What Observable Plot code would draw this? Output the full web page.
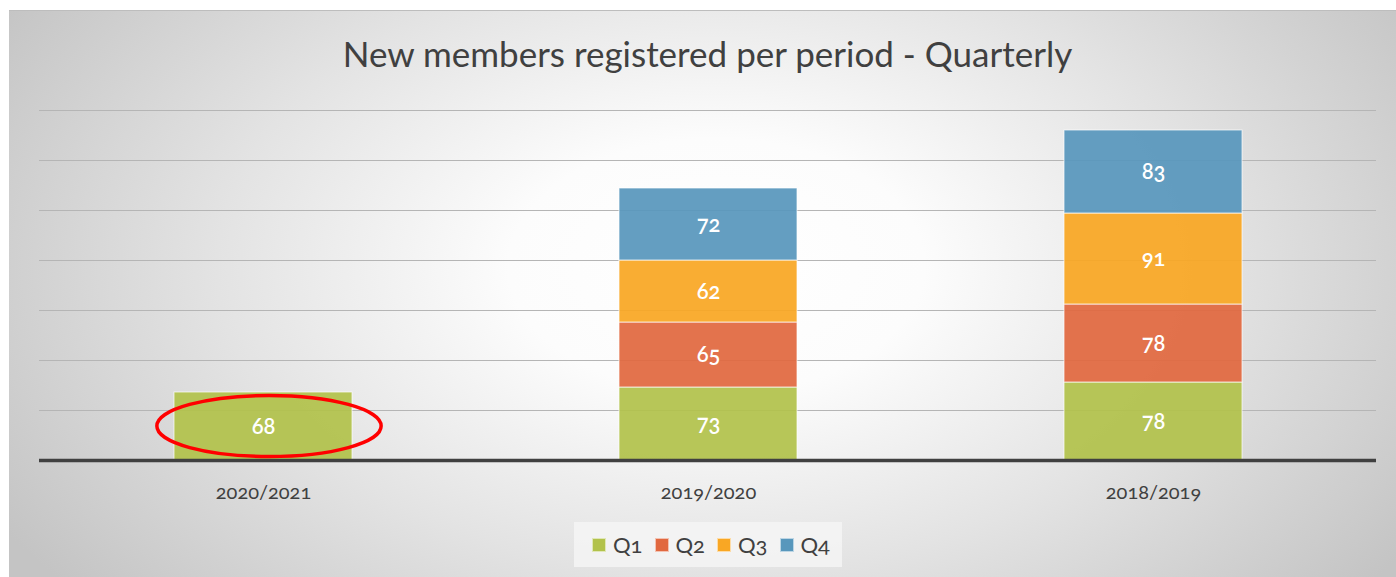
<!DOCTYPE html>
<html>
<head>
<meta charset="utf-8">
<script src="https://cdn.jsdelivr.net/npm/d3@7"></script>
<script src="https://cdn.jsdelivr.net/npm/@observablehq/plot@0.6"></script>
<style>
  html, body { margin: 0; padding: 0; background: #ffffff; }
  #wrap { position: relative; width: 1396px; height: 577px; overflow: hidden; font-family: Lato, "Open Sans", sans-serif; font-variant-numeric: oldstyle-nums; }
  #bg { position: absolute; left: 9px; top: 10px; width: 1387px; height: 567px;
        border-top: 1px solid #bdbdbd;
        background: radial-gradient(ellipse 60% 90% at 51% 45%, #ffffff 0%, #fcfcfc 25%, #e3e3e3 60%, #c4c4c4 100%); }
  #title { position: absolute; left: 39px; width: 1337px; top: 32px; text-align: center;
           font-size: 35px; color: #404040; font-weight: 400; letter-spacing: 0px; }
  #chart { position: absolute; left: 0; top: 0; }
  #legend { position: absolute; left: 574px; top: 522px; width: 268px; height: 45px; box-sizing: border-box;
            padding-left: 18px;
            background: rgba(245,245,245,0.85); display: flex; align-items: center; justify-content: flex-start; }
  .item { display: flex; align-items: center; width: 64.5px; font-size: 22px; color: #404040; }
  .sw { width: 12px; height: 12px; margin-right: 7px; border: 1px solid rgba(255,255,255,0.6); flex: none; }
</style>
</head>
<body>
<div id="wrap">
  <div id="bg"></div>
  <div id="title">New members registered per period - Quarterly</div>
  <div id="chart"></div>
  <div id="legend"></div>
</div>
<script>
const periods = ["2020/2021", "2019/2020", "2018/2019"];
const quarters = ["Q1", "Q2", "Q3", "Q4"];
const q1 = [68, 73, 78];
const q2 = [null, 65, 78];
const q3 = [null, 62, 91];
const q4 = [null, 72, 83];
const colors = ["#b2c24b", "#e1683f", "#f9a724", "#5897bc"];
const gridTicks = [0, 50, 100, 150, 200, 250, 300, 350];
const highlight = {period: "2020/2021", value: 68};

const series = [q1, q2, q3, q4];
const data = [];
quarters.forEach((q, qi) => {
  periods.forEach((p, pi) => {
    const v = series[qi][pi];
    if (v != null) data.push({period: p, quarter: q, value: v});
  });
});

const ellipseMark = (index, scales) => {
  const x = scales.x;
  const step = x(periods[1]) - x(periods[0]);
  const bw = (x.bandwidth && x.bandwidth > 0) ? x.bandwidth : step * 0.4;
  const cx = x(highlight.period) + bw / 2 + 6;
  const cy = scales.y(highlight.value / 2);
  return d3.create("svg:ellipse")
    .attr("cx", cx).attr("cy", cy)
    .attr("rx", bw * 0.63).attr("ry", 30.5)
    .attr("fill", "none").attr("stroke", "#ff0000").attr("stroke-width", 3.5)
    .node();
};

const chart = Plot.plot({
  width: 1396,
  height: 510,
  marginLeft: 39,
  marginRight: 20,
  marginTop: 110,
  marginBottom: 50,
  style: {background: "transparent", fontFamily: "Lato, 'Open Sans', sans-serif", fontVariantNumeric: "oldstyle-nums"},
  x: {domain: periods, paddingInner: 0.6, paddingOuter: 0.3, label: null},
  y: {domain: [0, 350], axis: null},
  color: {domain: quarters, range: colors},
  marks: [
    Plot.ruleY(gridTicks.filter(d => d > 0), {stroke: "#b5b5b5", strokeWidth: 1.2}),
    Plot.barY(data, Plot.stackY({x: "period", y: "value", fill: "quarter", z: "quarter", order: quarters,
      fillOpacity: 0.93, stroke: "#ffffff", strokeOpacity: 0.7, strokeWidth: 1})),
    Plot.ruleY([0], {stroke: "#404040", strokeWidth: 3.5}),
    Plot.text(data, Plot.stackY({x: "period", y: "value", z: "quarter", text: d => String(d.value), order: quarters,
      fill: "#ffffff", fontSize: 22, fontWeight: 600})),
    Plot.axisX({tickSize: 0, tickPadding: 24, fontSize: 20, color: "#404040", label: null}),
    ellipseMark
  ]
});
document.getElementById("chart").appendChild(chart);

const legend = document.getElementById("legend");
quarters.forEach((q, i) => {
  const it = document.createElement("div");
  it.className = "item";
  const sw = document.createElement("span");
  sw.className = "sw";
  sw.style.background = colors[i];
  const t = document.createElement("span");
  t.textContent = q;
  it.appendChild(sw); it.appendChild(t);
  legend.appendChild(it);
});
</script>
</body>
</html>
